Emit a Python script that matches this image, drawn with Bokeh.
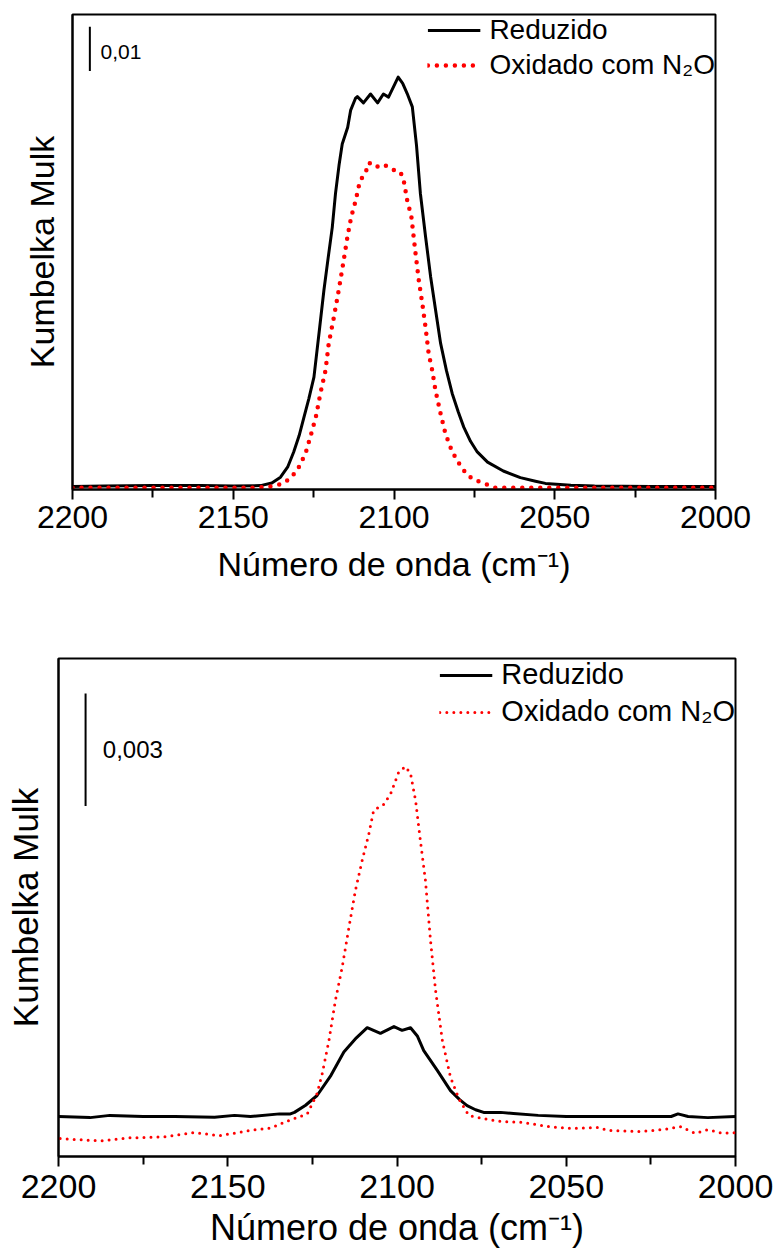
from bokeh.plotting import figure
from bokeh.layouts import column, row
from bokeh.models import Range1d, FixedTicker, Legend, LegendItem
from bokeh.core.properties import value
from bokeh.embed import file_html
from bokeh.resources import INLINE

FONT = "Liberation Sans"

# ---------------- data: top panel ----------------
top_red_wn = [2200, 2185, 2170, 2155, 2143, 2138.4, 2135.3, 2132.7, 2130.1, 2127.5, 2125.9, 2124.3,
              2122.9, 2121.3, 2120.3, 2118.7, 2117.2, 2115.8, 2114.4, 2113.3, 2111.9, 2110.6, 2108.9,
              2107.8, 2105.8, 2103.2, 2100.6, 2098.0, 2097.0, 2095.9, 2094.6, 2094.0, 2093.3, 2092.3,
              2091.2, 2090.2, 2089.2, 2088.1, 2087.1, 2085.5, 2084.0, 2081.9, 2078.8, 2075.7, 2073.1,
              2068.4, 2050, 2030, 2015, 2000]
top_red_km = [-0.0003, -0.0003, -0.0003, -0.0003, -0.0003, 0.0000, 0.0005, 0.0016, 0.0036, 0.0075,
              0.0115, 0.0157, 0.0210, 0.0262, 0.0323, 0.0382, 0.0443, 0.0504, 0.0567, 0.0609, 0.0646,
              0.0690, 0.0708, 0.0731, 0.0721, 0.0727, 0.0716, 0.0710, 0.0692, 0.0646, 0.0609, 0.0571,
              0.0526, 0.0466, 0.0413, 0.0360, 0.0299, 0.0262, 0.0217, 0.0164, 0.0119, 0.0078, 0.0040,
              0.0017, 0.0010, -0.0003, -0.0003, -0.0003, -0.0003, -0.0003]

top_black_wn = [2200, 2190, 2175, 2160, 2150, 2141.5, 2138, 2135.3, 2133, 2131.2, 2129.5, 2128.1, 2126.5,
                2124.9, 2123.1, 2121.8, 2120.5, 2119.2, 2118.2, 2117.1, 2116.1, 2114.4, 2113.5, 2112.0,
                2111.4, 2109.5, 2107.3, 2105.1, 2103.3, 2101.7, 2098.7, 2097.3, 2095.9, 2094.3, 2093,
                2091.8, 2090.2, 2088.6, 2087, 2085.5, 2083.7, 2081.9, 2080, 2078.3, 2076.2, 2074.1, 2070.9,
                2066, 2060.7, 2056, 2052.9, 2045, 2037.6, 2020, 2000]
top_black_km = [0.0000, 0.0001, 0.0002, 0.0002, 0.0001, 0.0002, 0.0008, 0.0021, 0.0045, 0.0078, 0.0115,
                0.0154, 0.0198, 0.0247, 0.0360, 0.0443, 0.0515, 0.0585, 0.0661, 0.0725, 0.0773, 0.0811,
                0.0849, 0.0876, 0.0880, 0.0866, 0.0886, 0.0866, 0.0886, 0.0879, 0.0924, 0.0910, 0.0887,
                0.0857, 0.0770, 0.0662, 0.0565, 0.0473, 0.0395, 0.0323, 0.0262, 0.0210, 0.0168, 0.0134,
                0.0102, 0.0078, 0.0055, 0.0035, 0.0020, 0.0012, 0.0007, 0.0003, 0.0001, 0.0000, 0.0000]

# ---------------- data: bottom panel ----------------
bot_black_wn = [2200, 2190.7, 2184.8, 2175, 2165.6, 2153.9, 2148, 2143.3, 2134.7, 2131.5, 2130.3, 2127,
                2123.6, 2119.5, 2115.7, 2112, 2108.8, 2104.9, 2100.9, 2098.5, 2096.0, 2094, 2092.1,
                2088.1, 2084.2, 2081.5, 2079.3, 2076.8, 2074.4, 2069.4, 2065.6, 2058.3, 2050, 2040.6,
                2030, 2019, 2017.0, 2014, 2008.2, 2000]
bot_black_km = [0.0, -0.00003, 0.00003, 0.0, 0.0, -0.00002, 0.00003, 0.0, 0.00007, 0.00007, 0.00011,
                0.00030, 0.00056, 0.00110, 0.00172, 0.00210, 0.00237, 0.00222, 0.00240, 0.00230,
                0.00237, 0.00215, 0.00176, 0.00123, 0.00069, 0.00045, 0.00029, 0.00018, 0.00011,
                0.00011, 0.00008, 0.00003, 0.0, 0.0, 0.0, 0.0, 0.00007, 0.0, -0.00003, 0.0]

bot_red_wn = [2199.5, 2187.7, 2178.9, 2168.6, 2159.8, 2152.4, 2145.1, 2143.3, 2137.4, 2131.5, 2126.5,
              2123.6, 2122.1, 2120.1, 2118.2, 2116.2, 2114.2, 2112.3, 2110.3, 2108.3, 2106.9, 2103.9,
              2101.9, 2099.5, 2097.5, 2096.0, 2094.5, 2093.1, 2091.6, 2090.1, 2088.6, 2086.6, 2084.2,
              2081.7, 2078.8, 2074.4, 2069.4, 2062.7, 2055.3, 2048.0, 2040.6, 2037.6, 2028.8, 2021.4,
              2016.3, 2011.9, 2008.2, 2003.8, 2000]
bot_red_km = [-0.00059, -0.00065, -0.00057, -0.00054, -0.00043, -0.00051, -0.00040, -0.00037, -0.00031,
              -0.00009, 0.00007, 0.00061, 0.00114, 0.00203, 0.00310, 0.00398, 0.00505, 0.00603,
              0.00683, 0.00755, 0.00817, 0.00833, 0.00861, 0.00919, 0.00934, 0.00915, 0.00843,
              0.00737, 0.00630, 0.00470, 0.00336, 0.00203, 0.00105, 0.00047, 0.00003, -0.00006,
              -0.00013, -0.00016, -0.00027, -0.00032, -0.00029, -0.00037, -0.00040, -0.00035,
              -0.00027, -0.00045, -0.00035, -0.00045, -0.00043]

x_ticks = [2200, 2150, 2100, 2050, 2000]
series_names = ["Reduzido", "Oxidado com N\u2082O"]
x_title = "Número de onda (cm\u207b\u00b9)"
y_title = "Kumbelka Mulk"

# scale bars (value shown, and where it sits in data units)
top_bar = dict(len=0.01, label="0,01", x=2194.6, y0=0.0938, tx=2191.3, ty=0.0980)
bot_bar = dict(len=0.003, label="0,003", x=2192.0, y0=0.00829, tx=2186.9, ty=0.00980)


def make_panel(h, borders, yrange, black, red, bar, fs, dot):
    p = figure(width=777, height=h, output_backend="svg", toolbar_location=None,
               x_range=Range1d(2200, 2000), y_range=Range1d(*yrange),
               min_border_left=borders[0], min_border_right=borders[1],
               min_border_top=borders[2], min_border_bottom=borders[3])
    p.grid.visible = False
    p.background_fill_color = "white"
    p.border_fill_color = "white"
    p.outline_line_color = "black"
    p.outline_line_width = 2
    p.outline_line_alpha = 1

    xa = p.xaxis[0]
    xa.ticker = FixedTicker(ticks=x_ticks, minor_ticks=[2175, 2125, 2075, 2025])
    xa.axis_line_width = 2
    xa.major_tick_line_width = 2
    xa.minor_tick_line_width = 2
    xa.major_tick_out = 10
    xa.major_tick_in = 0
    xa.minor_tick_out = 8
    xa.minor_tick_in = 0
    xa.major_label_text_font = FONT
    xa.major_label_text_font_size = f"{fs['tick']}px"
    xa.major_label_text_color = "black"
    xa.major_label_standoff = fs['tstand']
    xa.axis_label = x_title
    xa.axis_label_text_font = FONT
    xa.axis_label_text_font_style = "normal"
    xa.axis_label_text_color = "black"
    xa.axis_label_text_font_size = f"{fs['title']}px"
    xa.axis_label_standoff = fs['xstand']

    ya = p.yaxis[0]
    ya.ticker = FixedTicker(ticks=[])
    ya.axis_line_width = 2
    ya.major_tick_out = 0
    ya.major_tick_in = 0
    ya.minor_tick_out = 0
    ya.minor_tick_in = 0
    ya.major_label_standoff = 0
    ya.axis_label = y_title
    ya.axis_label_text_font = FONT
    ya.axis_label_text_font_style = "normal"
    ya.axis_label_text_color = "black"
    ya.axis_label_text_font_size = f"{fs['ylab']}px"
    ya.axis_label_standoff = fs['ystand']

    r1 = p.line(black[0], black[1], line_color="black", line_width=3, line_join="round")
    r2 = p.line(red[0], red[1], line_color="#ff0000", line_width=dot[0],
                line_dash=dot[1], line_cap="round", line_join="round")

    p.segment(x0=[bar['x']], y0=[bar['y0']], x1=[bar['x']], y1=[bar['y0'] + bar['len']],
              line_color="black", line_width=2)
    p.text(x=[bar['tx']], y=[bar['ty']], text=[bar['label']], text_font=value(FONT),
           text_font_size=f"{fs['bar']}px", text_baseline="middle", text_align="left",
           text_color="black")

    leg = Legend(items=[LegendItem(label=series_names[0], renderers=[r1]),
                        LegendItem(label=series_names[1], renderers=[r2])],
                 location="top_right", margin=0, padding=0, spacing=fs['lspace'],
                 glyph_width=53, glyph_height=30, label_height=30, label_standoff=9,
                 label_text_font=FONT, label_text_font_size=f"{fs['leg']}px",
                 label_text_color="black",
                 border_line_color=None, background_fill_alpha=0)
    p.add_layout(leg)
    return p


p1 = make_panel(620, (72, 62, 14, 131), (-0.00068, 0.10655),
                (top_black_wn, top_black_km), (top_red_wn, top_red_km), top_bar,
                dict(tick=32, title=34, ylab=34, bar=21, leg=28, lspace=3, tstand=6, xstand=14,
                     ystand=12),
                (4.5, "0 9"))
p2 = make_panel(635, (58, 42, 38, 99), (-0.0010676, 0.012224),
                (bot_black_wn, bot_black_km), (bot_red_wn, bot_red_km), bot_bar,
                dict(tick=34, title=36, ylab=35, bar=24, leg=29, lspace=4, tstand=8, xstand=6,
                     ystand=14),
                (3, "0 7"))

layout = column(row(p1), row(p2), spacing=0)
open("out.html", "w").write(file_html(layout, INLINE))
